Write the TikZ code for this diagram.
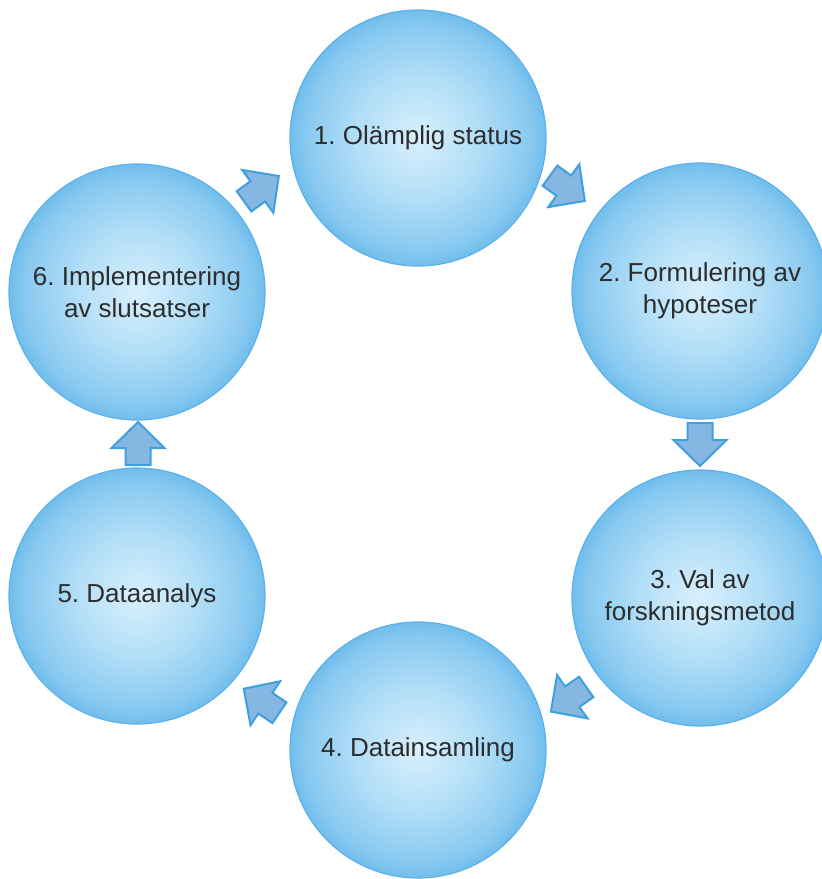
\documentclass[tikz,border=0pt]{standalone}
\usepackage{fontspec}
\setmainfont{Liberation Sans}
\frenchspacing
\definecolor{cz}{RGB}{216,240,252}
\definecolor{cm}{RGB}{178,222,247}
\definecolor{ce}{RGB}{136,201,240}
\definecolor{cr}{RGB}{112,189,236}
\definecolor{rim}{RGB}{92,178,232}
\definecolor{arrowfill}{RGB}{134,182,226}
\definecolor{arrowline}{RGB}{62,160,221}
\definecolor{txt}{RGB}{45,45,45}
\pgfdeclareradialshading{ballshade}{\pgfpoint{0bp}{0bp}}{color(0bp)=(cz); color(12bp)=(cm); color(22bp)=(ce); color(25bp)=(cr); color(50bp)=(cr)}
\tikzset{
  ball/.style={circle, minimum size=256pt, inner sep=0pt, shading=ballshade,
    draw=rim, line width=1.2pt, text=txt,
    font=\fontsize{26}{32.5}\selectfont, align=center},
  blockarrow/.style={fill=arrowfill, draw=arrowline, line width=2pt, line join=miter},
  barrow/.pic={\draw[blockarrow] (-21,-12.5) -- (-4,-12.5) -- (-4,-26.5) -- (22,0)
     -- (-4,26.5) -- (-4,12.5) -- (-21,12.5) -- cycle;}
}
\begin{document}
\begin{tikzpicture}[x=1pt, y=-1pt]
\useasboundingbox (0,0) rectangle (822,879);
\node[ball] (c1) at (418,138) {1. Olämplig status};
\node[ball] (c2) at (700,291) {2. Formulering av\\hypoteser};
\node[ball] (c3) at (700,598) {3. Val av\\forskningsmetod};
\node[ball] (c4) at (418,750) {4. Datainsamling};
\node[ball] (c5) at (137,596) {5. Dataanalys};
\node[ball] (c6) at (137,292) {6. Implementering\\av slutsatser};
\coordinate (a12) at (567,188);
\coordinate (a23) at (700,444);
\coordinate (a34) at (569,699);
\coordinate (a45) at (262,701);
\coordinate (a56) at (138,444);
\coordinate (a61) at (261,189);
\pic[rotate=-36] at (a12) {barrow};
\pic[rotate=-90] at (a23) {barrow};
\pic[rotate=-145] at (a34) {barrow};
\pic[rotate=146] at (a45) {barrow};
\pic[rotate=90] at (a56) {barrow};
\pic[rotate=36] at (a61) {barrow};
\end{tikzpicture}
\end{document}
